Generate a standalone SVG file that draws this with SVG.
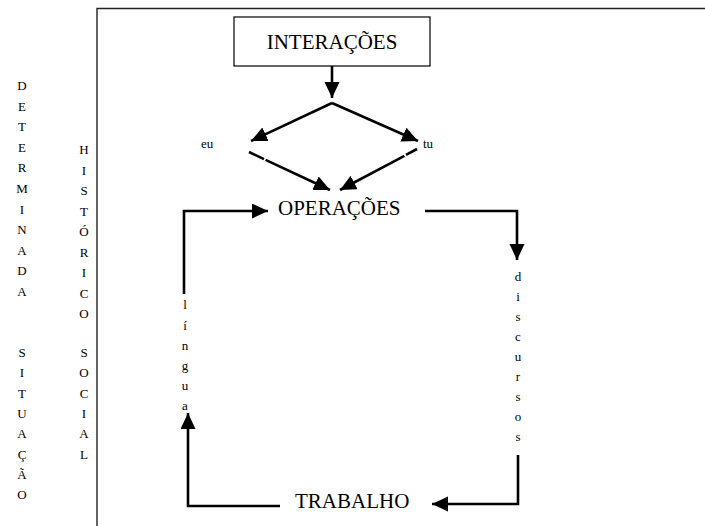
<svg xmlns="http://www.w3.org/2000/svg" width="705" height="526" viewBox="0 0 705 526">
<defs>
<marker id="ah" markerUnits="userSpaceOnUse" markerWidth="17" markerHeight="16" refX="16" refY="7.5" orient="auto" viewBox="0 0 17 16">
<path d="M0,0 L16,7.5 L0,15 z" fill="#000"/>
</marker>
<style>
.t{font-family:"Liberation Serif","Times New Roman",serif;fill:#000}
.big{font-size:21px}
.sm{font-size:13px}
.col{font-size:13px;text-anchor:middle}
.c{fill:none;stroke:#000;stroke-width:2.6}
.a{marker-end:url(#ah)}
.frame{fill:none;stroke:#222;stroke-width:1.4}
</style>
</defs>
<rect width="705" height="526" fill="#fff"/>
<g id="frame"><path class="frame" d="M97,526 V8.5 H705"/></g>
<g id="col-determinada"><text class="t col" x="22"><tspan x="22" y="90">D</tspan><tspan x="22" y="110.6">E</tspan><tspan x="22" y="131.2">T</tspan><tspan x="22" y="151.8">E</tspan><tspan x="22" y="172.4">R</tspan><tspan x="22" y="193">M</tspan><tspan x="22" y="213.6">I</tspan><tspan x="22" y="234.2">N</tspan><tspan x="22" y="254.8">A</tspan><tspan x="22" y="275.4">D</tspan><tspan x="22" y="296">A</tspan></text></g>
<g id="col-situacao"><text class="t col"><tspan x="22" y="357">S</tspan><tspan x="22" y="377.3">I</tspan><tspan x="22" y="397.6">T</tspan><tspan x="22" y="417.9">U</tspan><tspan x="22" y="438.2">A</tspan><tspan x="22" y="458.5">Ç</tspan><tspan x="22" y="478.8">Ã</tspan><tspan x="22" y="499.1">O</tspan></text></g>
<g id="col-historico"><text class="t col"><tspan x="84" y="154">H</tspan><tspan x="84" y="174.5">I</tspan><tspan x="84" y="195">S</tspan><tspan x="84" y="215.5">T</tspan><tspan x="84" y="236">Ó</tspan><tspan x="84" y="256.5">R</tspan><tspan x="84" y="277">I</tspan><tspan x="84" y="297.5">C</tspan><tspan x="84" y="318">O</tspan></text></g>
<g id="col-social"><text class="t col"><tspan x="84" y="357">S</tspan><tspan x="84" y="377.3">O</tspan><tspan x="84" y="397.6">C</tspan><tspan x="84" y="417.9">I</tspan><tspan x="84" y="438.2">A</tspan><tspan x="84" y="458.5">L</tspan></text></g>
<g id="interacoes"><rect x="234" y="17" width="196" height="49" fill="#fff" stroke="#000" stroke-width="1.2"/><text class="t big" x="332" y="49" text-anchor="middle">INTERAÇÕES</text></g>
<g id="eu"><text class="t sm" x="201" y="148">eu</text></g>
<g id="tu"><text class="t sm" x="423" y="148">tu</text></g>
<g id="operacoes"><text class="t big" x="278" y="215">OPERAÇÕES</text></g>
<g id="trabalho"><text class="t big" x="295" y="508">TRABALHO</text></g>
<g id="discursos"><text class="t col"><tspan x="518" y="281">d</tspan><tspan x="518" y="301">i</tspan><tspan x="518" y="321">s</tspan><tspan x="518" y="341">c</tspan><tspan x="518" y="361">u</tspan><tspan x="518" y="381">r</tspan><tspan x="518" y="401">s</tspan><tspan x="518" y="421">o</tspan><tspan x="518" y="441">s</tspan></text></g>
<g id="lingua"><text class="t col"><tspan x="185" y="309">l</tspan><tspan x="185" y="330">í</tspan><tspan x="185" y="350">n</tspan><tspan x="185" y="370">g</tspan><tspan x="185" y="390">u</tspan><tspan x="185" y="410">a</tspan></text></g>
<g id="connectors">
<path class="c a" d="M332,66 V98"/>
<path class="c a" d="M332,103 L251,141"/>
<path class="c a" d="M332,103 L418,141"/>
<path class="c" d="M249,152 L264,159.1"/>
<path class="c a" d="M265.6,159.9 L330,190"/>
<path class="c" d="M417,149 L406,154.9"/>
<path class="c a" d="M404.4,155.8 L340,190"/>
<path class="c a" d="M184,294 V211 H268"/>
<path class="c a" d="M425,211 H517 V260"/>
<path class="c a" d="M518,455 V504 H432"/>
<path class="c a" d="M280,506 H188 V413"/>
</g>
</svg>
